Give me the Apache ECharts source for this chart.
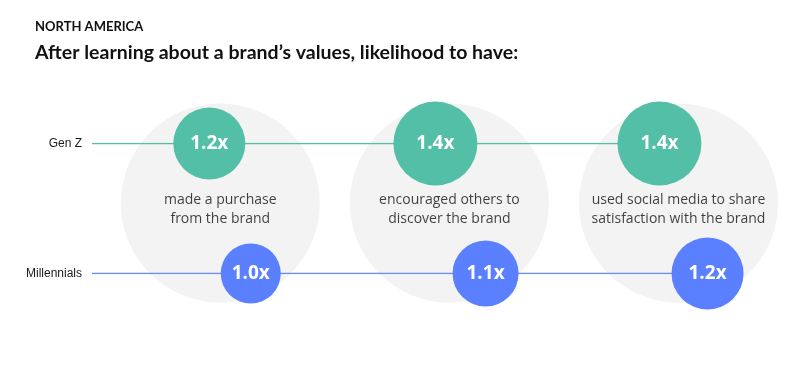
<!DOCTYPE html>
<html><head><meta charset="utf-8">
<script src="https://cdn.jsdelivr.net/npm/echarts@6/dist/echarts.min.js"></script>
<style>html,body{margin:0;padding:0;background:#fff}#c{width:809px;height:372px}</style>
</head><body><div id="c"></div>
<script>
// ---- data ----
const categories = ['made a purchase\nfrom the brand', 'encouraged others to\ndiscover the brand', 'used social media to share\nsatisfaction with the brand'];
const seriesNames = ['Gen Z', 'Millennials'];
const genZ = [1.2, 1.4, 1.4];
const millennials = [1.0, 1.1, 1.2];
const rowLabels = { 1: 'Gen Z', 0: 'Millennials' };

// ---- layout constants (not data) ----
const genZOffsets = [-0.048, -0.061, -0.083];
const millOffsets = [0.133, 0.158, 0.127];
const xMin = -0.56, xMax = 2.5;
const rowGenZ = 1, rowMill = 0, rowCircle = 0.542, rowText = 0.49;
const teal = '#52BFA6', blue = '#5B80FF';

const genZPts = genZ.map((v, i) => [i + genZOffsets[i], rowGenZ, v]);
const millPts = millennials.map((v, i) => [i + millOffsets[i], rowMill, v]);

const chart = echarts.init(document.getElementById('c'));
chart.setOption({
  backgroundColor: '#fff',
  animation: false,
  title: [
    { text: 'NORTH AMERICA', left: 35, top: 20, padding: 0, textStyle: { fontFamily: 'Lato', fontWeight: 'bold', fontSize: 13, color: '#111' } },
    { text: 'After learning about a brand\u2019s values, likelihood to have:', left: 35, top: 43, padding: 0, textStyle: { fontFamily: 'Lato', fontWeight: 'bold', fontSize: 19.5, color: '#111' } }
  ],
  grid: { left: 92, right: 16, top: 143.5, bottom: 98.5 },
  xAxis: { type: 'value', min: xMin, max: xMax, show: false },
  yAxis: {
    type: 'value', min: 0, max: 1, interval: 1,
    axisLine: { show: false }, axisTick: { show: false }, splitLine: { show: false },
    axisLabel: { margin: 10, fontFamily: 'Liberation Sans', fontSize: 12, color: '#1a1a1a', formatter: v => rowLabels[v] || '' }
  },
  series: [
    {
      type: 'scatter', z: 1, silent: true,
      data: categories.map((c, i) => [i, rowCircle, c]),
      symbolSize: 199,
      itemStyle: { color: '#F0F0F0' },
      label: {
        show: true, position: 'inside', offset: [0, (rowCircle - rowText) * 130],
        formatter: p => p.value[2], fontFamily: 'Open Sans', fontSize: 14, lineHeight: 19, color: '#111'
      }
    },
    {
      type: 'line', z: 2, name: 'Gen Z line', symbol: 'none', silent: true,
      data: [[xMin, rowGenZ], [genZPts[2][0], rowGenZ]],
      lineStyle: { color: teal, width: 1.6 }
    },
    {
      type: 'line', z: 2, name: 'Millennials line', symbol: 'none', silent: true,
      data: [[xMin, rowMill], [millPts[2][0], rowMill]],
      lineStyle: { color: '#6A8CFF', width: 1.6 }
    },
    {
      type: 'scatter', z: 3, name: seriesNames[0],
      data: genZPts, symbolSize: v => v[2] * 60,
      itemStyle: { color: teal, opacity: 1 },
      label: { show: true, position: 'inside', formatter: p => p.value[2].toFixed(1) + 'x', fontFamily: 'Open Sans', fontWeight: 'bold', fontSize: 19, color: '#fff' }
    },
    {
      type: 'scatter', z: 3, name: seriesNames[1],
      data: millPts, symbolSize: v => v[2] * 60,
      itemStyle: { color: blue, opacity: 1 },
      label: { show: true, position: 'inside', formatter: p => p.value[2].toFixed(1) + 'x', fontFamily: 'Open Sans', fontWeight: 'bold', fontSize: 19, color: '#fff' }
    }
  ]
});
</script></body></html>
